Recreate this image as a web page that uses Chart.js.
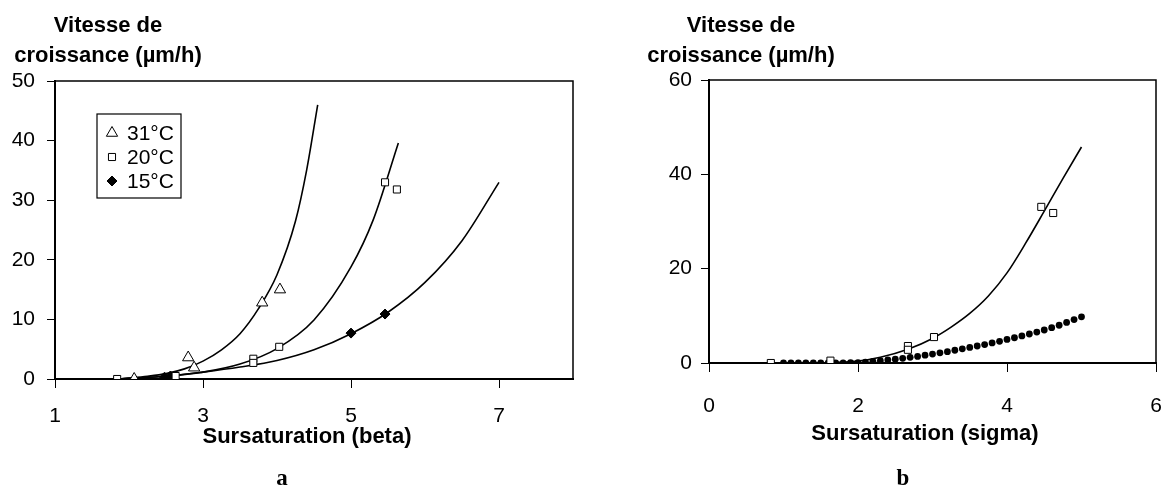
<!DOCTYPE html>
<html>
<head>
<meta charset="utf-8">
<script src="https://cdn.jsdelivr.net/npm/chart.js@4.4.1/dist/chart.umd.min.js"></script>
<style>
  html, body { margin:0; padding:0; background:#fff; }
  body { width:1163px; height:489px; position:relative; overflow:hidden; font-family:"Liberation Sans", Arial, sans-serif; }
  canvas { position:absolute; top:0; }
  .t { position:absolute; color:#000; font-weight:bold; white-space:nowrap; text-align:center; }
  .yt { font-size:22px; line-height:30px; }
  .xt { font-size:22px; line-height:26px; }
  .lab { font-family:"Liberation Serif", "Times New Roman", serif; font-size:23px; line-height:26px; }
</style>
</head>
<body>
<canvas id="c1" width="600" height="489" style="left:0px"></canvas>
<canvas id="c2" width="600" height="489" style="left:600px"></canvas>

<div class="t yt" style="left:0px; top:10px; width:216px;">Vitesse de<br>croissance (µm/h)</div>
<div class="t yt" style="left:621px; top:10px; width:240px;">Vitesse de<br>croissance (µm/h)</div>
<div class="t xt" style="left:187px; top:423px; width:240px;">Sursaturation (beta)</div>
<div class="t xt" style="left:805px; top:420px; width:240px;">Sursaturation (sigma)</div>
<div class="t lab" style="left:262px; top:465px; width:40px;">a</div>
<div class="t lab" style="left:883px; top:465px; width:40px;">b</div>

<script>
// ---------- data ----------
const leftXTicks = [1, 3, 5, 7];
const leftYTicks = [0, 10, 20, 30, 40, 50];
const rightXTicks = [0, 2, 4, 6];
const rightYTicks = [0, 20, 40, 60];

const legendLabels = ['31°C', '20°C', '15°C'];

// chart a : measured points
const t31X = [2.07, 2.80, 2.88, 3.80, 4.04];
const t31Y = [0.0, 3.6, 1.9, 12.8, 15.0];
const t20X = [1.84, 2.63, 3.68, 3.68, 4.03, 5.46, 5.62];
const t20Y = [0.0, 0.5, 3.4, 2.7, 5.4, 33.0, 31.8];
const t15X = [2.48, 2.56, 5.00, 5.46];
const t15Y = [0.3, 0.5, 7.7, 10.9];

// chart a : fitted curves
const fit31X = [1.85, 2.0, 2.25, 2.5, 2.75, 3.0, 3.25, 3.5, 3.75, 4.0, 4.25, 4.4, 4.55];
const fit31Y = [0.0, 0.15, 0.45, 0.9, 1.7, 3.0, 4.9, 7.6, 11.8, 17.5, 26.5, 35.0, 46.0];
const fit20X = [1.85, 2.0, 2.5, 3.0, 3.5, 4.0, 4.5, 5.0, 5.3, 5.64];
const fit20Y = [0.0, 0.1, 0.45, 1.15, 2.5, 5.1, 9.9, 18.8, 26.7, 39.6];
const fit15X = [1.85, 2.0, 2.5, 3.0, 3.5, 4.0, 4.5, 5.0, 5.5, 6.0, 6.5, 7.0];
const fit15Y = [0.0, 0.1, 0.45, 1.15, 2.0, 3.1, 4.9, 7.6, 11.2, 16.2, 23.2, 33.0];

// chart b : measured points
const sqX = [0.83, 1.63, 2.67, 2.67, 3.02, 4.46, 4.62];
const sqY = [0.0, 0.5, 3.6, 2.8, 5.5, 33.1, 31.8];
// chart b : solid fitted curve
const fitSX = [0.83, 1.2, 1.6, 2.0, 2.3, 2.67, 3.0, 3.25, 3.5, 3.75, 4.0, 4.25, 4.5, 4.75, 5.0];
const fitSY = [0.0, 0.0, 0.05, 0.4, 1.2, 2.9, 5.2, 7.6, 10.5, 14.2, 19.1, 25.4, 32.2, 39.1, 45.8];
// chart b : dotted curve
const dotX = [1.0, 1.1, 1.2, 1.3, 1.4, 1.5, 1.6, 1.7, 1.8, 1.9,
              2.0, 2.1, 2.2, 2.3, 2.4, 2.5, 2.6, 2.7, 2.8, 2.9,
              3.0, 3.1, 3.2, 3.3, 3.4, 3.5, 3.6, 3.7, 3.8, 3.9,
              4.0, 4.1, 4.2, 4.3, 4.4, 4.5, 4.6, 4.7, 4.8, 4.9, 5.0];
const dotY = [0, 0, 0, 0, 0, 0, 0, 0, 0, 0.05,
              0.1, 0.2, 0.35, 0.5, 0.65, 0.8, 1.0, 1.2, 1.4, 1.65,
              1.9, 2.15, 2.4, 2.7, 3.0, 3.3, 3.6, 3.9, 4.25, 4.6,
              5.0, 5.35, 5.75, 6.15, 6.55, 7.0, 7.5, 8.0, 8.6, 9.2, 9.8];

// ---------- helpers ----------
const FONT = '"Liberation Sans", Arial, sans-serif';
const zip = (xs, ys) => xs.map((x, i) => ({ x: x, y: ys[i] }));

const framePlugin = {
  id: 'frame',
  afterDraw(chart) {
    const { ctx, chartArea: a } = chart;
    ctx.save();
    ctx.strokeStyle = '#000';
    ctx.lineWidth = 1.5;
    ctx.beginPath();
    ctx.moveTo(a.left, a.top);
    ctx.lineTo(a.right, a.top);
    ctx.lineTo(a.right, a.bottom);
    ctx.stroke();
    ctx.restore();
  }
};

const boxLegend = {
  id: 'boxLegend',
  afterDraw(chart) {
    const ctx = chart.ctx;
    const a = chart.chartArea;
    const x0 = a.left + 42, y0 = a.top + 33, w = 84, h = 84;
    ctx.save();
    ctx.fillStyle = '#fff';
    ctx.fillRect(x0, y0, w, h);
    ctx.strokeStyle = '#000';
    ctx.lineWidth = 1.2;
    ctx.strokeRect(x0, y0, w, h);
    legendLabels.forEach((lab, i) => {
      const ds = chart.data.datasets[i];
      const cy = y0 + 19 + i * 24;
      ctx.fillStyle = ds.backgroundColor;
      ctx.strokeStyle = ds.borderColor;
      ctx.lineWidth = ds.borderWidth;
      Chart.helpers.drawPoint(ctx, {
        pointStyle: ds.pointStyle, rotation: 0,
        radius: ds.pointRadius, borderWidth: ds.borderWidth
      }, x0 + 15, cy);
      ctx.fillStyle = '#000';
      ctx.font = '21px ' + FONT;
      ctx.textBaseline = 'middle';
      ctx.textAlign = 'left';
      ctx.fillText(lab, x0 + 30, cy + 1);
    });
    ctx.restore();
  }
};

function pointSet(label, xs, ys, style, radius, fill) {
  return {
    label: label, data: zip(xs, ys), showLine: false,
    pointStyle: style, pointRadius: radius, pointHoverRadius: radius,
    backgroundColor: fill, borderColor: '#000', borderWidth: 1, order: 1
  };
}
function lineSet(xs, ys) {
  return {
    label: '', data: zip(xs, ys), showLine: true, pointRadius: 0, pointHoverRadius: 0,
    borderColor: '#000', borderWidth: 1.6, backgroundColor: '#000',
    cubicInterpolationMode: 'monotone', fill: false, order: 2
  };
}
function axis(min, max, tickList, size, tickLen, pad, isX) {
  return {
    type: 'linear', min: min, max: max,
    afterBuildTicks: s => { s.ticks = tickList.map(v => ({ value: v })); },
    afterFit: s => { if (isX) s.height = size; else s.width = size; },
    border: { display: true, color: '#000', width: 2 },
    grid: { drawOnChartArea: false, drawTicks: true, tickLength: tickLen, color: '#000', lineWidth: 1 },
    ticks: { color: '#000', font: { family: FONT, size: 21 }, padding: pad, maxRotation: 0, autoSkip: false }
  };
}

// ---------- chart a ----------
new Chart(document.getElementById('c1'), {
  type: 'scatter',
  data: {
    datasets: [
      pointSet(legendLabels[0], t31X, t31Y, 'triangle', 6.5, '#fff'),
      pointSet(legendLabels[1], t20X, t20Y, 'rect', 5, '#fff'),
      pointSet(legendLabels[2], t15X, t15Y, 'rectRot', 5, '#000'),
      lineSet(fit31X, fit31Y),
      lineSet(fit20X, fit20Y),
      lineSet(fit15X, fit15Y)
    ]
  },
  options: {
    responsive: false, animation: false, devicePixelRatio: 1,
    layout: { padding: { top: 81, right: 27, left: 0, bottom: 0 } },
    plugins: { legend: { display: false }, tooltip: { enabled: false } },
    scales: {
      x: axis(1, 8, leftXTicks, 110, 9, 16, true),
      y: axis(0, 50, leftYTicks, 55, 8, 12, false)
    }
  },
  plugins: [framePlugin, boxLegend]
});

// ---------- chart b ----------
new Chart(document.getElementById('c2'), {
  type: 'scatter',
  data: {
    datasets: [
      pointSet('20°C', sqX, sqY, 'rect', 5, '#fff'),
      lineSet(fitSX, fitSY),
      {
        label: '', data: zip(dotX, dotY), showLine: false,
        pointStyle: 'circle', pointRadius: 3.4, pointHoverRadius: 3.4,
        backgroundColor: '#000', borderColor: '#000', borderWidth: 0, order: 3
      }
    ]
  },
  options: {
    responsive: false, animation: false, devicePixelRatio: 1,
    layout: { padding: { top: 80, right: 44, left: 0, bottom: 0 } },
    plugins: { legend: { display: false }, tooltip: { enabled: false } },
    scales: {
      x: axis(0, 6, rightXTicks, 126, 9, 22, true),
      y: axis(0, 60, rightYTicks, 109, 8, 9, false)
    }
  },
  plugins: [framePlugin]
});
</script>
</body>
</html>
